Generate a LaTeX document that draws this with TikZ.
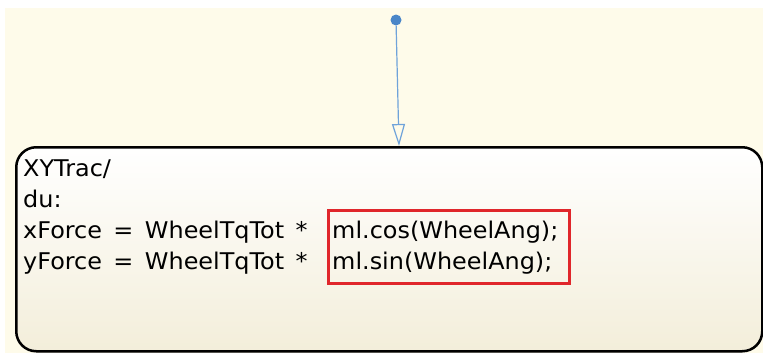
\documentclass[tikz,border=0pt]{standalone}
\usepackage{fontspec}
\newfontfamily\codefont[FakeStretch=1.04,WordSpace=1.5]{DejaVu Sans}
\usetikzlibrary{arrows.meta,shadows}
\definecolor{chartbg}{HTML}{FEFBEA}
\definecolor{statebot}{HTML}{F3EEDA}
\definecolor{transblue}{HTML}{6FA3DA}
\definecolor{dotblue}{HTML}{4A86C8}
\definecolor{markred}{HTML}{E0262B}
\tikzset{
  statebox/.style={draw=black, line width=2.5pt, rounded corners=20pt,
    top color=white, bottom color=statebot,
    drop shadow={shadow xshift=1pt, shadow yshift=-1pt, opacity=0.35}},
  codeline/.style={inner sep=0pt, anchor=base west,
    font=\codefont\fontsize{23}{27}\selectfont},
  markbox/.style={draw=markred, line width=2.5pt, inner sep=0pt}
}
\begin{document}
\begin{tikzpicture}[x=1pt,y=-1pt]
\fill[white] (0,0) rectangle (763,356);
\useasboundingbox (0,0) rectangle (763,356);
\fill[chartbg] (5,8) rectangle (763,353);
% state
\node[statebox, minimum width=746pt, minimum height=204pt, anchor=north west] (xytrac) at (15,146) {};
\node[codeline] (title) at (23,176) {XYTrac/};
\node[codeline] (du) at (23,207) {du:};
\node[codeline] (xlhs) at (23,238) {xForce = WheelTqTot *};
\node[codeline] (ylhs) at (23,269) {yForce = WheelTqTot *};
\node[codeline] (xrhs) at (332,238) {ml.cos(WheelAng);};
\node[codeline] (yrhs) at (332,269) {ml.sin(WheelAng);};
% highlight
\node[markbox, minimum width=241pt, minimum height=73pt, anchor=north west] (mark) at (327,209) {};
% default transition
\node[circle, fill=dotblue, inner sep=0pt, minimum size=11pt] (init) at (396,20) {};
\coordinate (entry) at (399,146);
\draw[transblue, line width=1.2pt, -{Triangle[open, length=22pt, width=13pt]}] (init) -- (entry);
\end{tikzpicture}
\end{document}
